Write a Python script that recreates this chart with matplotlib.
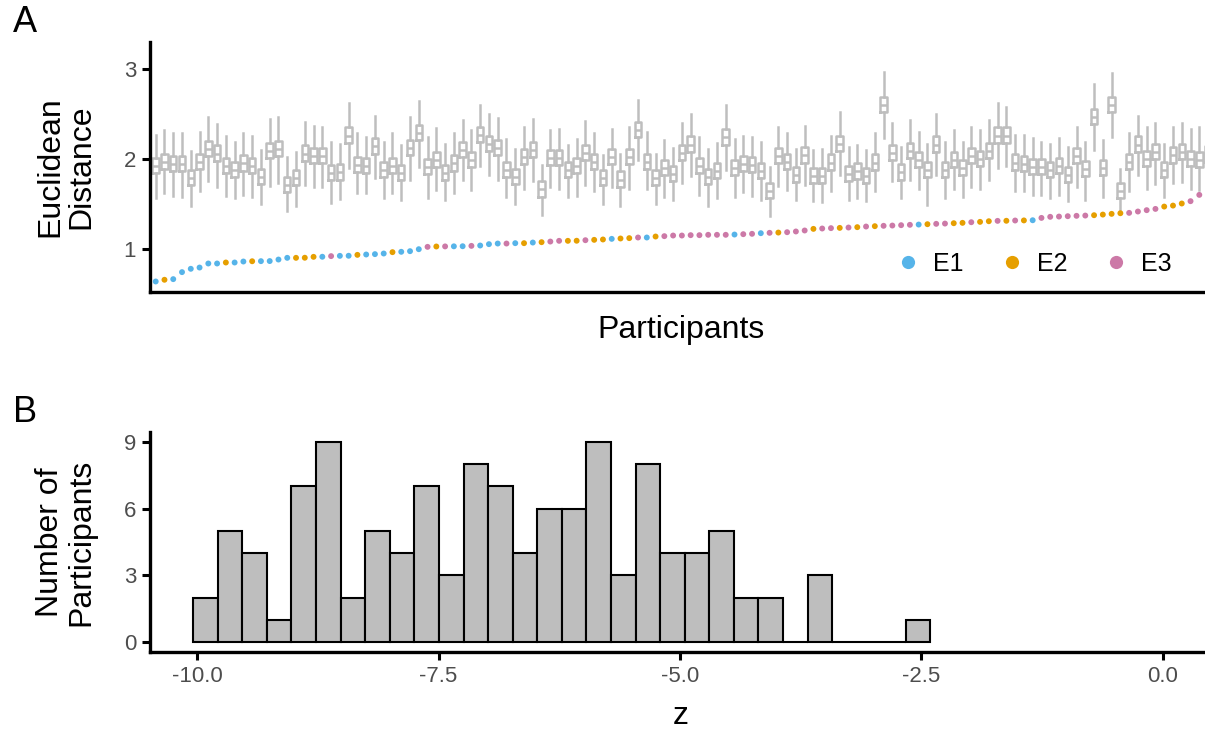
import numpy as np
import matplotlib
matplotlib.use('Agg')
import matplotlib.pyplot as plt
from matplotlib.lines import Line2D

plt.rcParams['font.family'] = ['Liberation Sans', 'DejaVu Sans']

# Panel A: observed distance per participant (sorted) and its experiment
distance = [
    0.637, 0.656, 0.663, 0.741, 0.778, 0.792, 0.837, 0.837, 0.848, 0.848,
    0.859, 0.862, 0.863, 0.864, 0.881, 0.900, 0.900, 0.901, 0.911, 0.912,
    0.919, 0.922, 0.923, 0.933, 0.937, 0.941, 0.948, 0.963, 0.967, 0.974,
    0.996, 1.022, 1.026, 1.027, 1.028, 1.029, 1.033, 1.037, 1.052, 1.059,
    1.059, 1.063, 1.063, 1.070, 1.074, 1.081, 1.089, 1.089, 1.090, 1.096,
    1.100, 1.104, 1.111, 1.115, 1.119, 1.126, 1.126, 1.137, 1.141, 1.148,
    1.148, 1.152, 1.152, 1.156, 1.156, 1.156, 1.159, 1.163, 1.167, 1.174,
    1.178, 1.181, 1.185, 1.193, 1.204, 1.222, 1.226, 1.230, 1.233, 1.237,
    1.241, 1.248, 1.252, 1.256, 1.259, 1.263, 1.267, 1.270, 1.274, 1.278,
    1.281, 1.285, 1.289, 1.296, 1.300, 1.307, 1.311, 1.312, 1.315, 1.316,
    1.318, 1.344, 1.356, 1.359, 1.363, 1.367, 1.370, 1.374, 1.381, 1.389,
    1.396, 1.400, 1.415, 1.430, 1.444, 1.470, 1.481, 1.504, 1.530, 1.600, 1.680,
]
group = [
    'E1', 'E2', 'E1', 'E1', 'E1', 'E1', 'E1', 'E1', 'E2', 'E1',
    'E1', 'E2', 'E1', 'E1', 'E1', 'E1', 'E2', 'E2', 'E2', 'E1',
    'E3', 'E1', 'E1', 'E2', 'E1', 'E1', 'E1', 'E2', 'E1', 'E1',
    'E1', 'E3', 'E2', 'E3', 'E1', 'E1', 'E3', 'E1', 'E1', 'E1',
    'E3', 'E1', 'E2', 'E1', 'E2', 'E3', 'E3', 'E2', 'E2', 'E3',
    'E2', 'E2', 'E1', 'E2', 'E2', 'E3', 'E1', 'E2', 'E3', 'E3',
    'E3', 'E3', 'E3', 'E3', 'E3', 'E3', 'E1', 'E3', 'E3', 'E1',
    'E3', 'E2', 'E3', 'E3', 'E3', 'E2', 'E3', 'E3', 'E2', 'E3',
    'E2', 'E3', 'E2', 'E3', 'E3', 'E3', 'E3', 'E1', 'E2', 'E3',
    'E3', 'E2', 'E2', 'E3', 'E2', 'E2', 'E3', 'E2', 'E3', 'E2',
    'E1', 'E3', 'E3', 'E3', 'E3', 'E3', 'E3', 'E2', 'E2', 'E2',
    'E2', 'E3', 'E3', 'E3', 'E3', 'E2', 'E2', 'E2', 'E3', 'E3', 'E3',
]

# Panel A: null-distribution boxplot summaries per participant
null_med = [
    1.92, 1.97, 1.94, 1.94, 1.79, 1.97, 2.11, 2.06, 1.92, 1.88,
    1.95, 1.92, 1.80, 2.09, 2.11, 1.71, 1.79, 2.06, 2.03, 2.03,
    1.84, 1.85, 2.26, 1.93, 1.92, 2.14, 1.88, 1.92, 1.84, 2.12,
    2.29, 1.91, 1.99, 1.84, 1.95, 2.10, 1.99, 2.27, 2.17, 2.12,
    1.88, 1.80, 2.02, 2.10, 1.66, 2.01, 2.01, 1.88, 1.92, 2.07,
    1.97, 1.79, 2.02, 1.77, 2.02, 2.32, 1.97, 1.79, 1.90, 1.83,
    2.07, 2.16, 1.92, 1.80, 1.87, 2.24, 1.90, 1.94, 1.93, 1.87,
    1.64, 2.03, 1.97, 1.82, 2.04, 1.81, 1.81, 1.96, 2.17, 1.83,
    1.86, 1.81, 1.96, 2.60, 2.07, 1.85, 2.09, 1.99, 1.88, 2.16,
    1.88, 1.99, 1.90, 2.03, 2.00, 2.09, 2.26, 2.26, 1.96, 1.94,
    1.91, 1.91, 1.88, 1.92, 1.82, 2.03, 1.89, 2.47, 1.90, 2.60,
    1.64, 1.97, 2.16, 2.00, 2.08, 1.88, 2.04, 2.08, 2.00, 1.99, 2.05,
]
null_q1 = [
    1.84, 1.89, 1.86, 1.86, 1.71, 1.89, 2.03, 1.98, 1.84, 1.80,
    1.87, 1.84, 1.72, 2.01, 2.03, 1.63, 1.71, 1.98, 1.95, 1.95,
    1.76, 1.77, 2.18, 1.85, 1.84, 2.06, 1.80, 1.84, 1.76, 2.04,
    2.21, 1.83, 1.91, 1.76, 1.87, 2.02, 1.91, 2.19, 2.09, 2.04,
    1.80, 1.72, 1.94, 2.02, 1.58, 1.93, 1.93, 1.80, 1.84, 1.99,
    1.89, 1.71, 1.94, 1.69, 1.94, 2.24, 1.89, 1.71, 1.82, 1.75,
    1.99, 2.08, 1.84, 1.72, 1.79, 2.16, 1.82, 1.86, 1.85, 1.79,
    1.56, 1.95, 1.89, 1.74, 1.96, 1.73, 1.73, 1.88, 2.09, 1.75,
    1.78, 1.73, 1.88, 2.52, 1.99, 1.77, 2.01, 1.91, 1.80, 2.08,
    1.80, 1.91, 1.82, 1.95, 1.92, 2.01, 2.18, 2.18, 1.88, 1.86,
    1.83, 1.83, 1.80, 1.84, 1.74, 1.95, 1.81, 2.39, 1.82, 2.52,
    1.56, 1.89, 2.08, 1.92, 2.00, 1.80, 1.96, 2.00, 1.92, 1.91, 1.97,
]
null_q3 = [
    2.01, 2.06, 2.03, 2.03, 1.88, 2.06, 2.20, 2.15, 2.01, 1.97,
    2.04, 2.01, 1.89, 2.18, 2.20, 1.80, 1.88, 2.15, 2.12, 2.12,
    1.93, 1.94, 2.35, 2.02, 2.01, 2.23, 1.97, 2.01, 1.93, 2.21,
    2.38, 2.00, 2.08, 1.93, 2.04, 2.19, 2.08, 2.36, 2.26, 2.21,
    1.97, 1.89, 2.11, 2.19, 1.75, 2.10, 2.10, 1.97, 2.01, 2.16,
    2.06, 1.88, 2.11, 1.86, 2.11, 2.41, 2.06, 1.88, 1.99, 1.92,
    2.16, 2.25, 2.01, 1.89, 1.96, 2.33, 1.99, 2.03, 2.02, 1.96,
    1.73, 2.12, 2.06, 1.91, 2.13, 1.90, 1.90, 2.05, 2.26, 1.92,
    1.95, 1.90, 2.05, 2.69, 2.16, 1.94, 2.18, 2.08, 1.97, 2.25,
    1.97, 2.08, 1.99, 2.12, 2.09, 2.18, 2.35, 2.35, 2.05, 2.03,
    2.00, 2.00, 1.97, 2.01, 1.91, 2.12, 1.98, 2.56, 1.99, 2.69,
    1.73, 2.06, 2.25, 2.09, 2.17, 1.97, 2.13, 2.17, 2.09, 2.08, 2.14,
]
null_lo = [
    1.56, 1.62, 1.59, 1.58, 1.48, 1.64, 1.75, 1.69, 1.59, 1.57,
    1.60, 1.58, 1.50, 1.70, 1.73, 1.42, 1.48, 1.71, 1.69, 1.69,
    1.51, 1.55, 1.90, 1.62, 1.62, 1.79, 1.56, 1.62, 1.54, 1.77,
    1.91, 1.56, 1.65, 1.54, 1.62, 1.77, 1.65, 1.92, 1.82, 1.77,
    1.58, 1.50, 1.67, 1.75, 1.38, 1.69, 1.67, 1.58, 1.59, 1.71,
    1.64, 1.50, 1.69, 1.48, 1.67, 1.99, 1.66, 1.50, 1.58, 1.54,
    1.73, 1.81, 1.60, 1.48, 1.56, 1.88, 1.58, 1.63, 1.59, 1.54,
    1.37, 1.70, 1.65, 1.54, 1.71, 1.53, 1.52, 1.64, 1.82, 1.54,
    1.57, 1.53, 1.64, 2.23, 1.75, 1.56, 1.77, 1.66, 1.49, 1.82,
    1.56, 1.66, 1.58, 1.69, 1.67, 1.77, 1.90, 1.92, 1.64, 1.64,
    1.60, 1.60, 1.56, 1.60, 1.53, 1.69, 1.54, 2.10, 1.58, 2.24,
    1.40, 1.64, 1.82, 1.67, 1.72, 1.58, 1.73, 1.74, 1.66, 1.65, 1.70,
]
null_hi = [
    2.27, 2.32, 2.29, 2.29, 2.09, 2.30, 2.47, 2.39, 2.25, 2.19,
    2.29, 2.25, 2.10, 2.44, 2.47, 2.02, 2.08, 2.41, 2.37, 2.36,
    2.19, 2.17, 2.62, 2.29, 2.24, 2.48, 2.19, 2.29, 2.16, 2.47,
    2.64, 2.24, 2.34, 2.17, 2.29, 2.43, 2.32, 2.60, 2.50, 2.45,
    2.22, 2.11, 2.36, 2.44, 1.93, 2.32, 2.33, 2.16, 2.22, 2.42,
    2.29, 2.04, 2.33, 2.06, 2.35, 2.66, 2.30, 2.06, 2.21, 2.12,
    2.40, 2.50, 2.24, 2.11, 2.18, 2.60, 2.22, 2.25, 2.24, 2.19,
    1.91, 2.35, 2.29, 2.11, 2.37, 2.10, 2.11, 2.26, 2.52, 2.13,
    2.16, 2.10, 2.29, 2.97, 2.40, 2.13, 2.43, 2.30, 2.17, 2.50,
    2.19, 2.32, 2.19, 2.36, 2.32, 2.43, 2.62, 2.58, 2.27, 2.27,
    2.23, 2.19, 2.17, 2.23, 2.13, 2.35, 2.19, 2.83, 2.21, 2.96,
    1.89, 2.29, 2.48, 2.36, 2.40, 2.17, 2.36, 2.40, 2.33, 2.35, 2.40,
]

# Panel B: histogram of z scores (30 bins)
z_counts = [2, 5, 4, 1, 7, 9, 2, 5, 4, 7, 3, 8, 7, 4, 6,
            6, 9, 3, 8, 4, 4, 5, 2, 2, 0, 3, 0, 0, 0, 1]
z_min, z_max = -10.04, -2.407
z_ticks = [-10.0, -7.5, -5.0, -2.5, 0.0]
z_tick_labels = ['-10.0', '-7.5', '-5.0', '-2.5', '0.0']

group_colors = {'E1': '#56B4E9', 'E2': '#E69F00', 'E3': '#CC79A7'}
box_grey = '#BEBEBE'
tick_grey = '#4D4D4D'

W, H = 1205, 733
fig = plt.figure(figsize=(W / 100, H / 100), dpi=100)


def style_axes(ax):
    for s in ['top', 'right']:
        ax.spines[s].set_visible(False)
    for s in ['bottom', 'left']:
        ax.spines[s].set_linewidth(2.4)
        ax.spines[s].set_color('black')
    ax.tick_params(length=6, width=2.2, color='black', labelcolor=tick_grey,
                   labelsize=16, pad=4)


# --- Panel A ---
ax1 = fig.add_axes([150 / W, 1 - 292 / H, 1055 / W, 250 / H])
x = np.arange(len(distance))
stats = [dict(med=m, q1=a, q3=b, whislo=l, whishi=h, fliers=[])
         for m, a, b, l, h in zip(null_med, null_q1, null_q3, null_lo, null_hi)]
lp = dict(color=box_grey, linewidth=1.8)
ax1.bxp(stats, positions=list(x), widths=0.74, showfliers=False, showcaps=False,
        boxprops=lp, whiskerprops=lp, medianprops=lp, manage_ticks=False)
ax1.scatter(x, distance, c=[group_colors[g] for g in group], s=18,
            linewidths=0, zorder=3)
ax1.set_xlim(-0.65, 119.65)
ax1.set_ylim(0.52, 3.3)
ax1.set_xticks([])
ax1.set_yticks([1, 2, 3])
style_axes(ax1)

handles = [Line2D([], [], marker='o', linestyle='none', markersize=9.5,
                  markerfacecolor=group_colors[g], markeredgewidth=0, label=g)
           for g in ['E1', 'E2', 'E3']]
ax1.legend(handles=handles, loc='lower right', bbox_to_anchor=(0.99, -0.025),
           ncol=3, frameon=False, fontsize=18, handletextpad=0.5,
           columnspacing=1.45, handlelength=1.0)

# --- Panel B ---
ax2 = fig.add_axes([150 / W, 1 - 652 / H, 1055 / W, 220 / H])
edges = np.linspace(z_min, z_max, len(z_counts) + 1)
ax2.bar(edges[:-1], z_counts, width=np.diff(edges), align='edge',
        color=box_grey, edgecolor='black', linewidth=1.5)
ax2.set_xlim(-10.487, 0.435)
ax2.set_ylim(-0.45, 9.45)
ax2.set_yticks([0, 3, 6, 9])
ax2.set_xticks(z_ticks)
ax2.set_xticklabels(z_tick_labels)
style_axes(ax2)

# --- Titles and panel tags ---
fig.text(66 / W, 1 - 167 / H, 'Euclidean\nDistance', rotation=90, ha='center',
         va='center', fontsize=23, multialignment='center', linespacing=1.05)
fig.text(681 / W, 1 - 330 / H, 'Participants', ha='center', va='center', fontsize=23)
fig.text(66 / W, 1 - 542 / H, 'Number of\nParticipants', rotation=90, ha='center',
         va='center', fontsize=23, multialignment='center', linespacing=1.05)
fig.text(681 / W, 1 - 716 / H, 'z', ha='center', va='center', fontsize=23)
fig.text(25 / W, 1 - 22 / H, 'A', ha='center', va='center', fontsize=26)
fig.text(25 / W, 1 - 412 / H, 'B', ha='center', va='center', fontsize=26)

fig.savefig('out.png', dpi=100)
